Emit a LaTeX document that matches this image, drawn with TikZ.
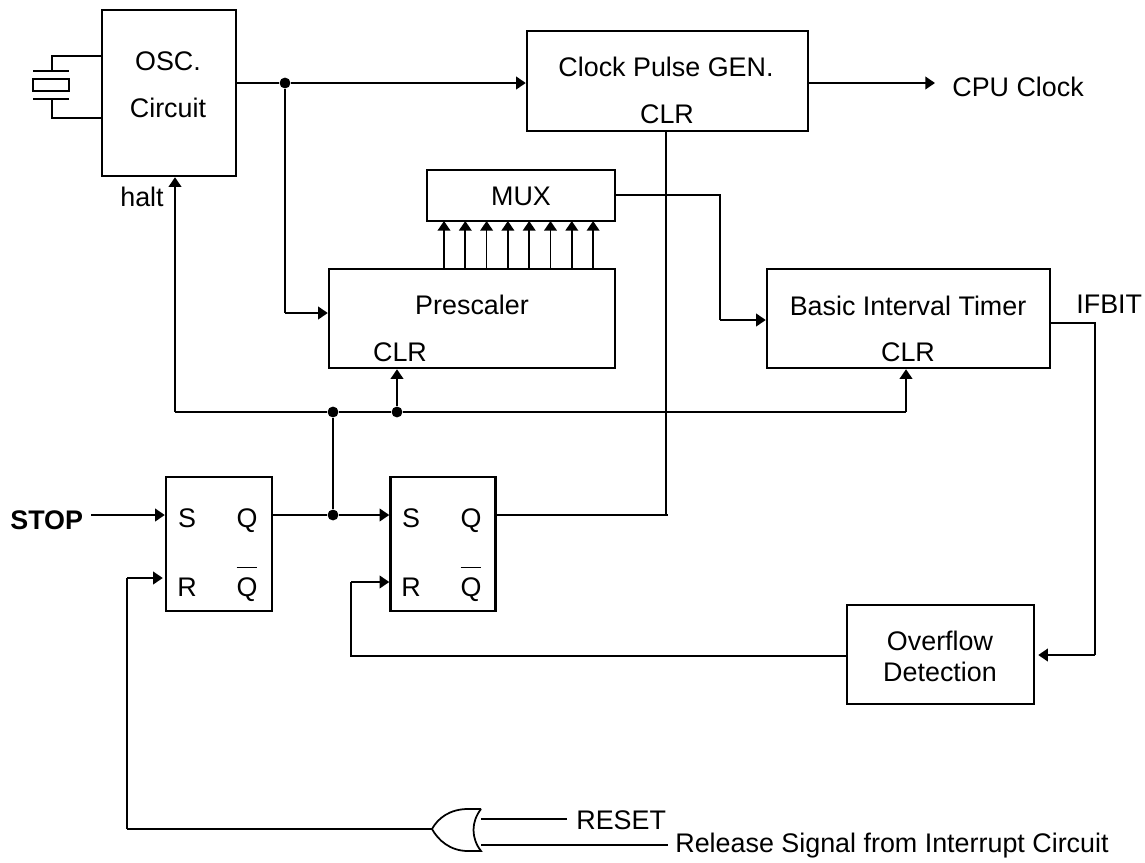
\documentclass[tikz,border=0pt]{standalone}
\usepackage{fontspec}
\setmainfont{Liberation Sans}
\usetikzlibrary{calc,arrows.meta}
\tikzset{
    blk/.style 2 args={draw,line width=1.4pt,minimum width=#1*0.02cm,minimum height=#2*0.02cm,inner sep=0pt},
    lbl/.style={font=\fontsize{15.3}{18}\selectfont,inner sep=0pt},
    wire/.style={line width=1pt},
    sig/.style={wire,-{Triangle[length=5.5pt,width=7.2pt]}},
    dot/.style={circle,fill=black,inner sep=0pt,minimum size=6.2pt},
}
\begin{document}
\begin{tikzpicture}[x=0.02cm,y=-0.02cm]
    \useasboundingbox (0,0) rectangle (1145,862);
    % blocks
    \node[blk={134}{166}] (osc) at (169,93) {};
    \node[blk={281}{100}] (clk) at (667.5,81) {};
    \node[blk={188}{51}] (mux) at (521,195.5) {};
    \node[blk={286}{99}] (pre) at (472,318.5) {};
    \node[blk={283}{99}] (bit) at (908.5,318.5) {};
    \node[blk={106}{134}] (ffa) at (219,544) {};
    \node[blk={105}{134}] (ffb) at (443,544) {};
    \node[blk={187}{99}] (ovf) at (940.5,654.5) {};
    % block texts
    \node[lbl] (oscA) at (168,61) {OSC.};
    \node[lbl] (oscB) at (168,108) {Circuit};
    \node[lbl] (halt) at (142,197) {halt};
    \node[lbl] (clkT) at (666,67) {Clock Pulse GEN.};
    \node[lbl] (clkC) at (667,114) {CLR};
    \node[lbl] (muxT) at (521,196) {MUX};
    \node[lbl] (preT) at (472,305) {Prescaler};
    \node[lbl] (preC) at (400,352) {CLR};
    \node[lbl] (bitT) at (908,306) {Basic Interval Timer};
    \node[lbl] (bitC) at (908,352) {CLR};
    \node[lbl,anchor=west] (ifbit) at (1076,304) {IFBIT};
    \node[lbl] (ovfA) at (940,641) {Overflow};
    \node[lbl] (ovfB) at (940,672) {Detection};
    \node[lbl,anchor=west] (cpu) at (952,87) {CPU Clock};
    \node[lbl,font=\fontsize{15.3}{18}\selectfont\bfseries,anchor=west] (stop) at (10,520) {STOP};
    \node[lbl,anchor=west] (reset) at (576,820) {RESET};
    \node[lbl,anchor=west] (rel) at (675,846) {Release Signal from Interrupt Circuit};
    % flip-flop pins
    \foreach \n/\x in {ffa/0,ffb/224}{
        \node[lbl,anchor=base] (\n S) at ({187+\x},527) {S};
        \node[lbl,anchor=base] (\n Q) at ({247+\x},527) {Q};
        \node[lbl,anchor=base] (\n R) at ({187+\x},596) {R};
        \node[lbl,anchor=base] (\n N) at ({247+\x},596) {$\overline{\mbox{\rule{0pt}{15pt}Q}}$};
    }
    % junctions
    \coordinate (jOsc) at (285,83);
    \node[dot] (dOsc) at (jOsc) {};
    \node[dot] (dBus) at (333,412) {};
    \node[dot] (dClr) at (397,412) {};
    \node[dot] (dQ) at (333,515) {};
    \coordinate (jHalt) at (175,412);
    \coordinate (jBit) at (906,412);
    \coordinate (jPre) at (285,313);
    \coordinate (jMuxA) at (720,195);
    \coordinate (jMuxB) at (720,320);
    \coordinate (jClr) at (666,515);
    \coordinate (jStub) at (651,515);
    \coordinate (jIfA) at (1095,323);
    \coordinate (jIfB) at (1095,655);
    \coordinate (jFbk) at (351,656);
    \coordinate (jFbkB) at (351,582);
    \coordinate (jRst) at (127,829);
    \coordinate (jRstB) at (127,578);
    % connectors
    \draw[wire] (osc.east |- jOsc) -- (dOsc);
    \draw[sig] (dOsc) -- (clk.west |- jOsc);
    \draw[wire] (dOsc) -- (jPre);
    \draw[sig] (jPre) -- (pre.west |- jPre);
    \draw[sig] (clk.east |- jOsc) -- ($(cpu.west |- jOsc)+(-17,0)$);
    \foreach \i in {0,...,7}{
        \draw[sig] ({444+\i*21.3},269) -- ({444+\i*21.3},221);
    }
    \draw[wire] (mux.east |- jMuxA) -- (jMuxA) -- (jMuxB);
    \draw[sig] (jMuxB) -- (bit.west |- jMuxB);
    \draw[sig] (jHalt) -- (osc.south -| jHalt);
    \draw[wire] (jHalt) -- (dBus) -- (dClr) -- (jBit);
    \draw[sig] (jBit) -- (bit.south -| jBit);
    \draw[sig] (dClr) -- (pre.south -| dClr);
    \draw[wire] (dBus) -- (dQ);
    \draw[sig] (stop.east |- dQ) ++(8,0) -- (ffa.west |- dQ);
    \draw[wire] (ffa.east |- dQ) -- (dQ);
    \draw[sig] (dQ) -- (ffb.west |- dQ);
    \draw[wire] (ffb.east |- dQ) -- (jClr) -- (clk.south -| jClr);
    \draw[wire] (jStub) -- ($(jClr)+(2,0)$);
    \draw[wire] (bit.east |- jIfA) -- (jIfA) -- (jIfB);
    \draw[sig] (jIfB) -- ($(ovf.east |- jIfB)+(3,0)$);
    \draw[wire] (ovf.west |- jFbk) -- (jFbk) -- (jFbkB);
    \draw[sig] (jFbkB) -- (ffb.west |- jFbkB);
    \draw[wire] (jRst) -- (jRstB);
    \draw[sig] (jRstB) -- ($(ffa.west |- jRstB)+(-2,0)$);
    % crystal
    \coordinate (xtalA) at (52,71);
    \coordinate (xtalB) at (52,99);
    \draw[wire] (osc.west |- 0,56) -- (52,56) -- (xtalA);
    \draw[wire] (osc.west |- 0,118) -- (52,118) -- (xtalB);
    \draw[wire] (33,71) -- (69,71);
    \draw[wire] (33,99) -- (69,99);
    \draw[wire] (33,79) rectangle (69,91);
    % or gate
    \coordinate (orOut) at (432,829);
    \coordinate (orTop) at (481,809);
    \coordinate (orBot) at (481,851);
    \draw[wire] (orTop) -- (468,809) .. controls (450,809) and (438,818) .. (orOut)
        .. controls (438,840) and (450,851) .. (468,851) -- (orBot)
        .. controls (471,838) and (471,822) .. (orTop);
    \draw[wire] (jRst) -- (orOut);
    \draw[wire] (481,819) -- ($(reset.west |- 0,819)+(-9,0)$);
    \draw[wire] (481,845) -- ($(rel.west |- 0,845)+(-7,0)$);
\end{tikzpicture}
\end{document}
